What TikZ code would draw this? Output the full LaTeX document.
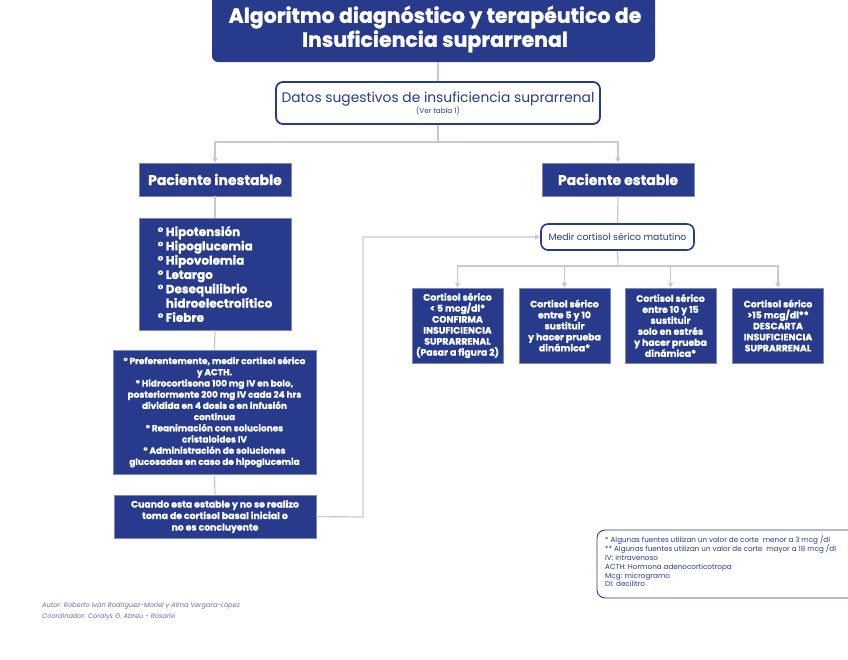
\documentclass[tikz,border=0pt]{standalone}
\usepackage{fontspec}
\setmainfont{Poppins}[BoldFeatures={FakeBold=1.2}]
\usetikzlibrary{arrows.meta,positioning}
\definecolor{dblue}{RGB}{40,58,140}
\definecolor{lgray}{RGB}{200,200,210}
\definecolor{authc}{RGB}{100,110,160}
\tikzset{
  x=1pt,y=-1pt,
  bluebox/.style={fill=dblue,draw=dblue!60,line width=0.6pt,text=white,font=\bfseries,align=center,inner sep=2pt},
  whitebox/.style={fill=white,draw=dblue,line width=1.8pt,rounded corners=7pt,text=dblue,align=center,inner sep=2pt},
  conn/.style={draw=lgray,line width=1.2pt},
  arr/.style={conn,-{Triangle[width=5pt,length=5pt,fill=lgray]}},
}
\begin{document}
\begin{tikzpicture}
\useasboundingbox (0,0) rectangle (848,659);
% title
\fill[dblue,rounded corners=6pt] (212,-10) rectangle (655,62);
\node[text=white,font=\fontsize{20.5}{24}\selectfont\bfseries,align=center] (title) at (435,29) {Algoritmo diagnóstico y terapéutico de\\Insuficiencia suprarrenal};
\coordinate (tb) at (438,62);
% datos
\node[whitebox,minimum width=324pt,minimum height=42pt] (datos) at (438,103) {\fontsize{13.8}{15}\selectfont Datos sugestivos de insuficiencia suprarrenal\\[-1pt]\fontsize{7.2}{8}\selectfont(Ver tabla 1)};
\draw[conn] (tb) -- (datos.north);
% paciente
\node[bluebox,minimum width=152pt,minimum height=33pt,font=\fontsize{14}{16}\selectfont\bfseries] (inest) at (215,179.5) {Paciente inestable};
\node[bluebox,minimum width=152pt,minimum height=33pt,font=\fontsize{14}{16}\selectfont\bfseries] (est) at (618,179.5) {Paciente estable};
\coordinate (split) at (438,142);
\draw[conn] (datos.south) -- (split);
\draw[arr] (split) -| (inest.north);
\draw[arr] (split) -| (est.north);
% symptoms
\node[bluebox,minimum width=152pt,minimum height=112pt,align=left,font=\fontsize{12}{14.3}\selectfont\bfseries] (sint) at (215,274) {° Hipotensión\\° Hipoglucemia\\° Hipovolemia\\° Letargo\\° Desequilibrio\\\phantom{° }hidroelectrolítico\\° Fiebre};
\draw[conn] (inest.south) -- (sint.north);
% treatment
\node[bluebox,minimum width=203pt,minimum height=124pt,font=\fontsize{8.9}{11.2}\selectfont\bfseries] (trat) at (214.5,412) {° Preferentemente, medir cortisol sérico\\y ACTH.\\° Hidrocortisona 100 mg IV en bolo,\\posteriormente 200 mg IV cada 24 hrs\\dividida en 4 dosis o en infusión\\continua\\° Reanimación con soluciones\\cristaloides IV\\° Administración de soluciones\\glucosadas en caso de hipoglucemia};
\draw[conn] (sint.south) -- (trat.north);
% cuando
\node[bluebox,minimum width=202pt,minimum height=43pt,font=\fontsize{9.3}{11.5}\selectfont\bfseries] (cuando) at (215,516.5) {Cuando esta estable y no se realizo\\toma de cortisol basal inicial o\\no es concluyente};
\draw[conn] (trat.south) -- (cuando.north);
% medir
\node[whitebox,minimum width=153pt,minimum height=26pt,line width=1.6pt,font=\fontsize{9.3}{10}\selectfont] (medir) at (617.5,237) {Medir cortisol sérico matutino};
\draw[conn] (est.south) -- (medir.north);
\coordinate (c1) at (363,517);
\coordinate (c2) at (363,237);
\draw[arr] (cuando.east) -- (c1) -- (c2) -- (medir.west);
% results
\tikzset{res/.style={bluebox,minimum width=91pt,minimum height=75pt,inner sep=0pt,font=\fontsize{9.3}{11}\selectfont\bfseries}}
\node[res] (r1) at (457.5,325.5) {Cortisol sérico\\< 5 mcg/dl*\\CONFIRMA\\INSUFICIENCIA\\SUPRARRENAL\\(Pasar a figura 2)};
\node[res] (r2) at (564.5,325.5) {Cortisol sérico\\entre 5 y 10\\sustituir\\y hacer prueba\\dinámica*};
\node[res] (r3) at (670.5,325.5) {Cortisol sérico\\entre 10 y 15\\sustituir\\solo en estrés\\y hacer prueba\\dinámica*};
\node[res] (r4) at (778,325.5) {Cortisol sérico\\>15 mcg/dl**\\DESCARTA\\INSUFICIENCIA\\SUPRARRENAL};
\coordinate (split2) at (618,266);
\draw[conn] (medir.south) -- (split2);
\draw[arr] (split2) -| (r1.north);
\draw[arr] (split2) -| (r2.north);
\draw[arr] (split2) -| (r3.north);
\draw[arr] (split2) -| (r4.north);
% legend
\draw[dblue,line width=0.9pt,rounded corners=8pt] (597,530) rectangle (860,598);
\node[anchor=north west,align=left,text=dblue,font=\fontsize{7.2}{8.8}\selectfont,inner sep=0pt] (leg) at (605,536) {* Algunas fuentes utilizan un valor de corte \ menor a 3 mcg /dl\\** Algunas fuentes utilizan un valor de corte \ mayor a 18 mcg /dl\\IV: intravenoso\\ACTH: Hormona adenocorticotropa\\Mcg: microgramo\\Dl: decilitro};
% author
\node[anchor=north west,align=left,text=authc,font=\fontsize{6.6}{11.5}\selectfont\itshape,inner sep=0pt] (auth) at (42,602) {Autor: Roberto Iván Rodríguez-Moriel y Alma Vergara-López\\Coordinador: Coralys G. Abreu - Rosario};
\end{tikzpicture}
\end{document}
